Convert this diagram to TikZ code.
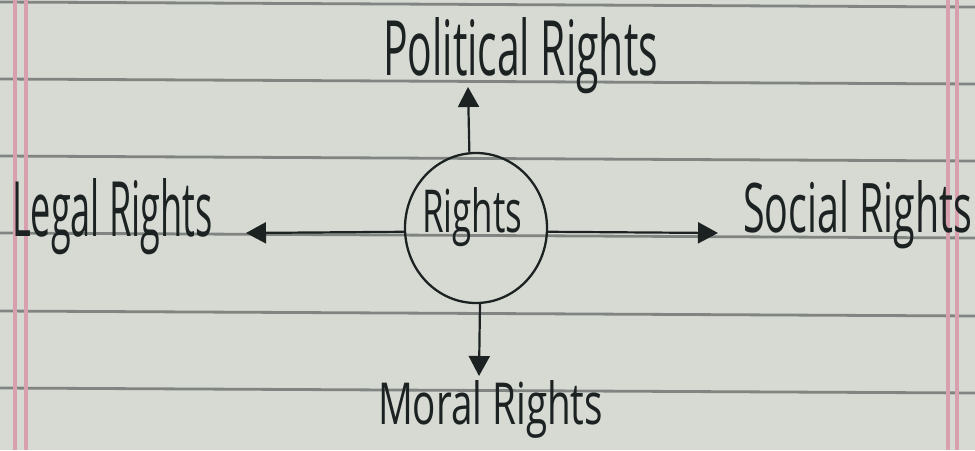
\documentclass[tikz,border=0pt]{standalone}
\usepackage{fontspec}
\usepackage{graphicx}
\setmainfont{Open Sans}
\usetikzlibrary{arrows.meta,shapes.geometric}
\definecolor{paper}{RGB}{214,218,211}
\definecolor{rulegray}{RGB}{128,133,129}
\definecolor{marginpink}{RGB}{216,160,174}
\definecolor{ink}{RGB}{28,34,34}
\newcommand{\hw}[3]{\resizebox{#1pt}{#2pt}{#3}}
\begin{document}
\begin{tikzpicture}[x=1pt,y=-1pt,
  lbl/.style={anchor=base west,inner sep=0pt,outer sep=0pt,text=ink},
  conn/.style={draw=ink,line width=2.2pt,-{Triangle[length=20pt,width=21pt]}},
  ruling/.style={draw=rulegray,line width=2.8pt},
  marginline/.style={draw=marginpink,line width=3.4pt}]
\useasboundingbox[fill=paper] (0,0) rectangle (975,450);
% notebook rulings
\foreach \yy in {2,79,156,233,311,388}
  \draw[ruling] (0,\yy) -- (975,\yy+5);
% margins
\draw[marginline] (15,0) -- (15,450);
\draw[marginline] (26,0) -- (26,450);
\draw[marginline] (948,0) -- (948,450);
\draw[marginline] (957,0) -- (957,450);
% central circle
\node[draw=ink,line width=2.3pt,ellipse,minimum width=142pt,minimum height=150pt,inner sep=0pt] (c) at (476,228) {};
\node[lbl] (rights) at (422,232) {\hw{100}{45}{Rights}};
% labels
\node[lbl] (political) at (383,75) {\hw{275}{58}{Political Rights}};
\node[lbl] (legal) at (12,236) {\hw{201}{58}{Legal Rights}};
\node[lbl] (social) at (743,232) {\hw{229}{52}{Social Rights}};
\node[lbl] (moral) at (378,424) {\hw{225}{44}{Moral Rights}};
% arrow tips
\coordinate (tTop) at (468,87);
\coordinate (tBot) at (479,376);
\coordinate (tLeft) at (246,233);
\coordinate (tRight) at (718,233);
\draw[conn] (c.95) -- (tTop);
\draw[conn] (c.273) -- (tBot);
\draw[conn] (c.183) -- (tLeft);
\draw[conn] (c.-3) -- (tRight);
\end{tikzpicture}
\end{document}
